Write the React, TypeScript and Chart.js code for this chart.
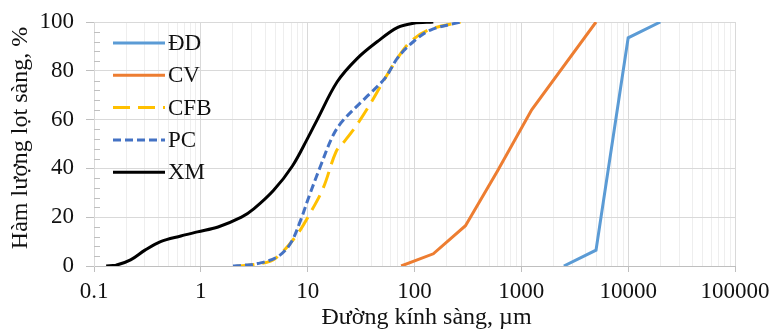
import React, { useEffect, useRef } from 'react';
import { Chart, registerables } from 'chart.js';

Chart.register(...registerables);

// ---- data ----
const SERIES_NAMES = ['ĐD', 'CV', 'CFB', 'PC', 'XM'];

const DD_X = [2500, 5000, 10000, 20000];
const DD_Y = [0, 6.5, 93.5, 100];

const CV_X = [75, 150, 300, 600, 1250, 5000];
const CV_Y = [0, 5, 16.5, 39, 64, 100];

const CFB_X = [2.2, 3, 4.5, 5.6, 8, 10.5, 14, 18.5, 22, 28, 38, 50, 69, 92, 140, 270];
const CFB_Y = [0, 0.5, 2, 5, 13, 21.5, 32, 47, 51, 57, 66, 75, 85, 92, 97, 100];

const PC_X = [2, 2.5, 3.4, 5.2, 6.9, 8.6, 10.3, 13.2, 17.5, 21.8, 35, 53, 70, 98, 141, 270];
const PC_Y = [0, 0.3, 1, 3.7, 9.2, 18.8, 28.5, 41, 54, 60, 69, 77, 85.5, 92, 96.7, 100];

const XM_X = [0.13, 0.16, 0.22, 0.3, 0.42, 0.65, 0.93, 1.45, 2.4, 3.15, 4.8, 7.2, 9.9, 12.3, 18.9, 29, 45, 69, 98, 150];
const XM_Y = [0, 0.3, 2.5, 6.5, 10, 12.3, 14, 16, 20, 23.5, 31, 41, 52, 60, 75.5, 85, 92, 97.7, 99.5, 100];

const X_TICK_LABELS = ['0.1', '1', '10', '100', '1000', '10000', '100000'];
const Y_TICKS = [0, 20, 40, 60, 80, 100];

const X_TITLE = 'Đường kính sàng, µm';
const Y_TITLE = 'Hàm lượng lọt sàng, %';

// ---- styles ----
const FONT_FAMILY = "'Liberation Serif', 'Times New Roman', serif";
const FONT_SIZE = 23;
const TITLE_SIZE = 24;
const TEXT_COLOR = '#111111';
const COLORS = ['#5B9BD5', '#ED7D31', '#FFC000', '#4472C4', '#000000'];
const DASHES: number[][] = [[], [], [17, 8], [8, 4], []];
const SMOOTH = [false, false, true, true, true];

const toPoints = (xs: number[], ys: number[]) => xs.map((x, i) => ({ x, y: ys[i] }));

const isDecade = (v: number) => {
  const l = Math.log10(v);
  return Math.abs(l - Math.round(l)) < 1e-6;
};

const minorYTicks = {
  id: 'minorYTicks',
  beforeDatasetsDraw(chart: any) {
    const { ctx, chartArea, scales } = chart;
    const y = scales.y;
    ctx.save();
    ctx.strokeStyle = '#bfbfbf';
    ctx.lineWidth = 1;
    for (let v = 4; v < 100; v += 4) {
      if (v % 20 === 0) continue;
      const py = Math.round(y.getPixelForValue(v)) + 0.5;
      ctx.beginPath();
      ctx.moveTo(chartArea.left, py);
      ctx.lineTo(chartArea.left + 6, py);
      ctx.stroke();
    }
    ctx.restore();
  },
};

const axisTitles = {
  id: 'axisTitles',
  afterDraw(chart: any) {
    const { ctx, chartArea } = chart;
    ctx.save();
    ctx.font = `${TITLE_SIZE}px ${FONT_FAMILY}`;
    ctx.fillStyle = TEXT_COLOR;
    ctx.textAlign = 'center';
    ctx.textBaseline = 'middle';
    const cx = (chartArea.left + chartArea.right) / 2 + 12;
    ctx.fillText(X_TITLE, cx, chart.height - 13);
    const cy = (chartArea.top + chartArea.bottom) / 2 - 6;
    ctx.translate(21, cy);
    ctx.rotate(-Math.PI / 2);
    ctx.fillText(Y_TITLE, 0, 0);
    ctx.restore();
  },
};

const customLegend = {
  id: 'customLegend',
  afterDraw(chart: any) {
    const { ctx, chartArea } = chart;
    ctx.save();
    ctx.font = `${FONT_SIZE}px ${FONT_FAMILY}`;
    ctx.textBaseline = 'middle';
    ctx.textAlign = 'left';
    chart.data.datasets.forEach((ds: any, i: number) => {
      const yy = chartArea.top + 21 + i * 32.3;
      const x0 = chartArea.left + 19;
      const x1 = chartArea.left + 71;
      ctx.strokeStyle = ds.borderColor;
      ctx.lineWidth = 3;
      ctx.setLineDash(ds.borderDash || []);
      ctx.beginPath();
      ctx.moveTo(x0, yy);
      ctx.lineTo(x1, yy);
      ctx.stroke();
      ctx.setLineDash([]);
      ctx.fillStyle = TEXT_COLOR;
      ctx.fillText(ds.label, chartArea.left + 74, yy + 1);
    });
    ctx.restore();
  },
};

export default function App() {
  const canvasRef = useRef<HTMLCanvasElement | null>(null);

  useEffect(() => {
    const canvas = canvasRef.current;
    if (!canvas) return;
    const xsList = [DD_X, CV_X, CFB_X, PC_X, XM_X];
    const ysList = [DD_Y, CV_Y, CFB_Y, PC_Y, XM_Y];
    const orders = [5, 4, 3, 2, 1];

    const datasets = SERIES_NAMES.map((name, i) => ({
      label: name,
      data: toPoints(xsList[i], ysList[i]),
      borderColor: COLORS[i],
      backgroundColor: COLORS[i],
      borderWidth: 3,
      borderDash: DASHES[i],
      pointRadius: 0,
      pointHoverRadius: 0,
      fill: false,
      tension: SMOOTH[i] ? 0.35 : 0,
      order: orders[i],
    }));

    const font = { family: FONT_FAMILY, size: FONT_SIZE };

    const chart = new Chart(canvas, {
      type: 'line',
      data: { datasets } as any,
      options: {
        animation: false,
        responsive: false,
        devicePixelRatio: 1,
        events: [],
        layout: { padding: { top: 22, right: 38, left: 0, bottom: 0 } },
        plugins: {
          legend: { display: false },
          tooltip: { enabled: false },
        },
        scales: {
          x: {
            type: 'logarithmic',
            min: 0.1,
            max: 100000,
            afterBuildTicks: (s: any) => {
              const t: any[] = [];
              for (let e = -1; e <= 5; e++) {
                for (let m = 1; m <= 9; m++) {
                  const v = m * Math.pow(10, e);
                  if (v > 100000 * 1.0001) break;
                  t.push({ value: v });
                }
              }
              s.ticks = t;
            },
            afterFit: (s: any) => {
              s.height = 65;
              s.paddingLeft = 0;
              s.paddingRight = 0;
            },
            ticks: {
              autoSkip: false,
              maxRotation: 0,
              minRotation: 0,
              padding: 6,
              color: TEXT_COLOR,
              font,
              callback: (v: any) => {
                const n = Number(v);
                if (!isDecade(n)) return '';
                const idx = Math.round(Math.log10(n)) + 1;
                return X_TICK_LABELS[idx] ?? '';
              },
            },
            grid: {
              color: (c: any) => (c.tick && isDecade(c.tick.value) ? '#d9d9d9' : '#eeeeee'),
              tickColor: (c: any) => (c.tick && isDecade(c.tick.value) ? '#bfbfbf' : 'rgba(0,0,0,0)'),
              tickLength: 6,
              lineWidth: 1,
            },
            border: { color: '#bfbfbf' },
            title: { display: false },
          },
          y: {
            type: 'linear',
            min: 0,
            max: 100,
            afterBuildTicks: (s: any) => {
              s.ticks = Y_TICKS.map((v) => ({ value: v }));
            },
            afterFit: (s: any) => {
              s.width = 94;
              s.paddingTop = 0;
              s.paddingBottom = 0;
            },
            ticks: {
              padding: 12,
              color: TEXT_COLOR,
              font,
              callback: (v: any) => String(v),
            },
            grid: {
              color: '#d9d9d9',
              tickColor: '#bfbfbf',
              tickLength: 8,
              lineWidth: 1,
            },
            border: { color: '#d9d9d9' },
            title: { display: false },
          },
        },
      } as any,
      plugins: [minorYTicks, customLegend, axisTitles],
    });

    return () => {
      chart.destroy();
    };
  }, []);

  return (
    <div style={{ position: 'fixed', left: 0, top: 0, width: 773, height: 331, background: '#ffffff' }}>
      <canvas ref={canvasRef} width={773} height={331} style={{ width: 773, height: 331, display: 'block' }} />
    </div>
  );
}
